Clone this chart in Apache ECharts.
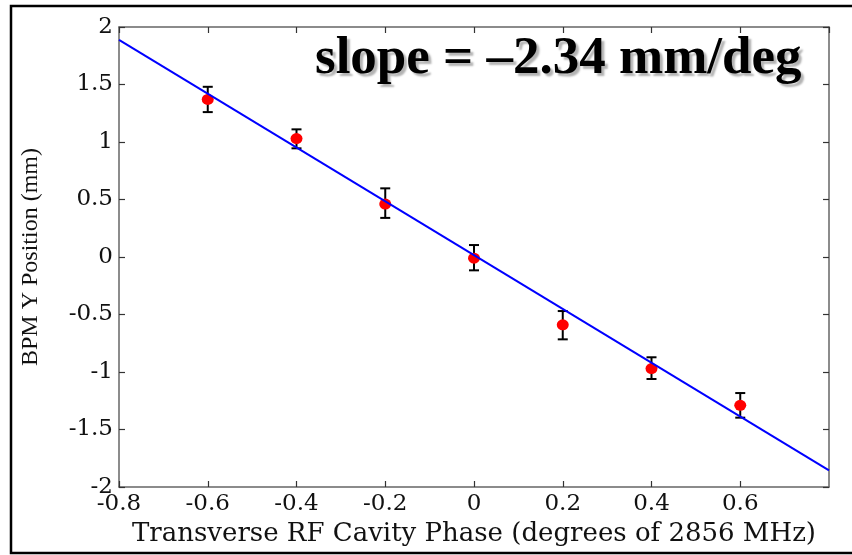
<!DOCTYPE html>
<html>
<head>
<meta charset="utf-8">
<script src="https://cdn.jsdelivr.net/npm/echarts@6/dist/echarts.min.js"></script>
<style>
html,body{margin:0;padding:0;background:#fff;}
#chart{width:852px;height:555px;}
</style>
</head>
<body>
<div id="chart"></div>
<script>
// ---- data ----
const phase   = [-0.6, -0.4, -0.2, 0, 0.2, 0.4, 0.6];          // deg of 2856 MHz
const bpmY    = [1.37, 1.03, 0.46, -0.01, -0.59, -0.97, -1.29]; // mm
const errLow  = [1.26, 0.945, 0.34, -0.116, -0.716, -1.061, -1.397];
const errHigh = [1.48, 1.11, 0.597, 0.104, -0.47, -0.872, -1.183];
const fitX    = [-0.8, 0.8];
const fitY    = [1.888, -1.856];
const xTicks  = [-0.8, -0.6, -0.4, -0.2, 0, 0.2, 0.4, 0.6];
const yTicks  = [-2, -1.5, -1, -0.5, 0, 0.5, 1, 1.5, 2];
const annotation = 'slope = \u20132.34 mm/deg';
const xTitle = 'Transverse RF Cavity Phase (degrees of 2856 MHz)';
const yTitle = 'BPM Y Position (mm)';

const axisColor = '#666';
const tickFont = 'DejaVu Serif';

function fmtX(v){
  const hit = xTicks.find(t => Math.abs(t - v) < 1e-9);
  return hit === undefined ? '' : String(hit);
}
function fmtY(v){
  const hit = yTicks.find(t => Math.abs(t - v) < 1e-9);
  return hit === undefined ? '' : String(hit);
}

const chart = echarts.init(document.getElementById('chart'), null, {renderer: 'canvas'});

const baseAxisLine = {show: true, onZero: false, lineStyle: {color: axisColor, width: 1.5}};
const baseTick = {show: true, inside: true, length: 6, lineStyle: {color: '#333', width: 1.2}};

const option = {
  animation: false,
  backgroundColor: '#fff',
  grid: {left: 119, right: 23, top: 27, bottom: 68, containLabel: false},
  xAxis: [
    {
      type: 'value', position: 'bottom',
      min: xTicks[0], max: 0.8, interval: 0.2,
      axisLine: baseAxisLine, axisTick: baseTick, splitLine: {show: false},
      axisLabel: {show: true, margin: 6, color: '#111', fontFamily: tickFont, fontSize: 23,
                  formatter: fmtX, showMaxLabel: false},
      name: xTitle, nameLocation: 'middle', nameGap: 31,
      nameTextStyle: {color: '#111', fontFamily: tickFont, fontSize: 26}
    },
    {
      type: 'value', position: 'top',
      min: xTicks[0], max: 0.8, interval: 0.2,
      axisLine: baseAxisLine, axisTick: baseTick, splitLine: {show: false},
      axisLabel: {show: false}
    }
  ],
  yAxis: [
    {
      type: 'value', position: 'left',
      min: yTicks[0], max: yTicks[yTicks.length - 1], interval: 0.5,
      axisLine: baseAxisLine, axisTick: baseTick, splitLine: {show: false},
      axisLabel: {show: true, margin: 6, color: '#111', fontFamily: tickFont, fontSize: 23,
                  formatter: fmtY},
      name: yTitle, nameLocation: 'middle', nameGap: 76,
      nameTextStyle: {color: '#111', fontFamily: 'Liberation Serif', fontSize: 24}
    },
    {
      type: 'value', position: 'right',
      min: yTicks[0], max: yTicks[yTicks.length - 1], interval: 0.5,
      axisLine: baseAxisLine, axisTick: baseTick, splitLine: {show: false},
      axisLabel: {show: false}
    }
  ],
  graphic: [
    {
      type: 'rect', silent: true, z: 100,
      shape: {x: 11, y: 6, width: 900, height: 547},
      style: {fill: 'none', stroke: '#000', lineWidth: 2.5}
    },
    {
      type: 'text', z: 50, left: 315, top: 33,
      style: {
        text: annotation,
        font: 'bold 53px "Liberation Serif"',
        fill: '#000',
        textShadowColor: 'rgba(0,0,0,0.3)',
        textShadowOffsetX: 3, textShadowOffsetY: 3, textShadowBlur: 2
      }
    }
  ],
  series: [
    {
      name: 'error', type: 'custom', z: 2,
      data: phase.map((x, i) => [x, errLow[i], errHigh[i]]),
      renderItem: function (params, api) {
        const x = api.value(0);
        const top = api.coord([x, api.value(2)]);
        const bot = api.coord([x, api.value(1)]);
        const hw = 5;
        const st = {stroke: '#000', lineWidth: 2};
        return {
          type: 'group',
          children: [
            {type: 'line', shape: {x1: top[0], y1: top[1], x2: bot[0], y2: bot[1]}, style: st},
            {type: 'line', shape: {x1: top[0] - hw, y1: top[1], x2: top[0] + hw, y2: top[1]}, style: st},
            {type: 'line', shape: {x1: bot[0] - hw, y1: bot[1], x2: bot[0] + hw, y2: bot[1]}, style: st}
          ]
        };
      }
    },
    {
      name: 'data', type: 'scatter', z: 3,
      data: phase.map((x, i) => [x, bpmY[i]]),
      symbol: 'circle', symbolSize: [12, 11],
      itemStyle: {color: '#ff0000', opacity: 1}
    },
    {
      name: 'fit', type: 'line', z: 4,
      data: fitX.map((x, i) => [x, fitY[i]]),
      symbol: 'none',
      lineStyle: {color: '#0000ff', width: 2}
    }
  ]
};
chart.setOption(option);
</script>
</body>
</html>
